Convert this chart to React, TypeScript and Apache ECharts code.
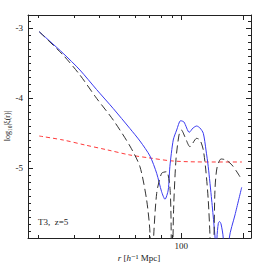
import React, { useEffect, useRef } from "react";
import * as echarts from "echarts";

// r [h^-1 Mpc] and log10|xi(r)|
const R_BLUE = [20.3, 26.55, 32.06, 38.65, 46.6, 56.2, 62.9, 70.4, 75.9, 80.2, 83.3, 86.4, 88.0, 91.4, 95.0, 99.3, 103.1, 109.4, 114.1, 118.9, 123.4, 128.1, 132.0, 135.4, 140.7, 144.4, 146.9, 147.5, 149.3, 151.6, 153.6, 156.3, 160.2, 163.4, 167.2, 171.5, 182.8, 197.1];
const V_BLUE = [-3.053, -3.361, -3.6, -3.879, -4.15, -4.436, -4.614, -4.829, -5.076, -5.339, -5.447, -5.314, -4.981, -4.6, -4.457, -4.324, -4.343, -4.49, -4.429, -4.4, -4.429, -4.504, -4.743, -4.981, -5.457, -5.814, -6.1, -7.0, -6.0, -5.79, -5.764, -5.8, -6.0, -7.0, -7.0, -6.0, -5.671, -5.276];

const R_BLACK = [20.3, 26.55, 32.06, 38.65, 46.6, 56.2, 62.9, 67.8, 70.4, 71.2, 73.0, 75.9, 80.2, 84.9, 88.0, 89.1, 90.1, 91.6, 94.2, 97.5, 100.2, 104.3, 110.3, 118.9, 123.4, 128.1, 132.0, 135.4, 138.0, 141.2, 144.4, 146.0, 149.3, 156.3, 165.3, 176.7, 186.9, 197.8];
const V_BLACK = [-3.053, -3.386, -3.671, -4.004, -4.314, -4.686, -4.981, -5.457, -5.929, -7.0, -6.1, -5.361, -5.076, -5.053, -5.267, -5.671, -7.0, -5.671, -4.886, -4.529, -4.457, -4.557, -4.696, -4.576, -4.6, -4.743, -5.057, -5.457, -5.957, -7.0, -6.0, -5.314, -5.0, -4.871, -4.886, -4.957, -5.057, -5.171];

const R_RED = [20.3, 26.55, 33.9, 43.9, 56.2, 70.4, 91.2, 133.4, 197.8];
const V_RED = [-4.543, -4.6, -4.671, -4.743, -4.814, -4.857, -4.9, -4.914, -4.914];

const X_MAJOR_TICKS = [100, 200];
const X_MINOR_TICKS = [20, 30, 40, 50, 60, 70, 80, 90];
const X_LABELS = [100];
const Y_MAJOR = [-6, -5, -4, -3];
const Y_LABELS = [-5, -4, -3];

const X_MIN_R = 17.9;
const X_MAX_R = 218.8;
const Y_MIN = -6;
const Y_MAX = -2.814;

const FONT = "'Liberation Serif', 'DejaVu Serif', serif";
const INK = "#222";

const lg = (v: number) => Math.log10(v);
const pair = (rs: number[], vs: number[]) => rs.map((r, i) => [lg(r), vs[i]]);

export default function App() {
  const ref = useRef<HTMLDivElement>(null);
  useEffect(() => {
    if (!ref.current) return;
    const chart = echarts.init(ref.current, null, { renderer: "svg" });
    const yMinor: number[] = [];
    for (let k = -59; k <= -29; k++) {
      if (k % 10 !== 0) yMinor.push(k / 10);
    }
    const xBase = {
      type: "value" as const,
      min: lg(X_MIN_R),
      max: lg(X_MAX_R),
      splitLine: { show: false },
    };
    const yBase = {
      type: "value" as const,
      min: Y_MIN,
      max: Y_MAX,
      splitLine: { show: false },
    };
    const line = { show: true, lineStyle: { color: INK, width: 1 } };
    const tick = (len: number, vals: number[]) => ({
      show: true,
      inside: true,
      length: len,
      customValues: vals,
      lineStyle: { color: INK, width: 1 },
    });
    chart.setOption({
      animation: false,
      grid: { left: 28, right: 15, top: 15, bottom: 28 },
      xAxis: [
        {
          ...xBase,
          position: "bottom",
          axisLine: line,
          axisTick: tick(5, X_MAJOR_TICKS.map(lg)),
          axisLabel: {
            show: true,
            customValues: X_LABELS.map(lg),
            formatter: (v: number) => String(Math.round(Math.pow(10, v))),
            margin: 3,
            fontSize: 9,
            fontFamily: FONT,
            color: INK,
          },
        },
        {
          ...xBase,
          position: "bottom",
          axisLine: { show: false },
          axisTick: tick(3, X_MINOR_TICKS.map(lg)),
          axisLabel: { show: false },
        },
        {
          ...xBase,
          position: "top",
          axisLine: line,
          axisTick: tick(5, X_MAJOR_TICKS.map(lg)),
          axisLabel: { show: false },
        },
        {
          ...xBase,
          position: "top",
          axisLine: { show: false },
          axisTick: tick(3, X_MINOR_TICKS.map(lg)),
          axisLabel: { show: false },
        },
      ],
      yAxis: [
        {
          ...yBase,
          position: "left",
          axisLine: line,
          axisTick: tick(5, Y_MAJOR),
          axisLabel: {
            show: true,
            customValues: Y_LABELS,
            formatter: (v: number) => String(v),
            margin: 5,
            fontSize: 9,
            fontFamily: FONT,
            color: INK,
          },
        },
        {
          ...yBase,
          position: "left",
          axisLine: { show: false },
          axisTick: tick(3, yMinor),
          axisLabel: { show: false },
        },
        {
          ...yBase,
          position: "right",
          axisLine: line,
          axisTick: tick(5, Y_MAJOR),
          axisLabel: { show: false },
        },
        {
          ...yBase,
          position: "right",
          axisLine: { show: false },
          axisTick: tick(3, yMinor),
          axisLabel: { show: false },
        },
      ],
      series: [
        {
          type: "line",
          data: pair(R_RED, V_RED),
          symbol: "none",
          smooth: 0.3,
          lineStyle: { color: "#ff3a3a", width: 1, type: [4, 3] },
          z: 2,
        },
        {
          type: "line",
          data: pair(R_BLUE, V_BLUE),
          symbol: "none",
          smooth: 0.25,
          lineStyle: { color: "#3a3af0", width: 1 },
          z: 3,
        },
        {
          type: "line",
          data: pair(R_BLACK, V_BLACK),
          symbol: "none",
          smooth: 0.25,
          lineStyle: { color: "#333", width: 1, type: [8, 4] },
          z: 4,
        },
      ],
      graphic: [
        {
          type: "text",
          x: 7,
          y: 126,
          rotation: Math.PI / 2,
          style: {
            text: "log₁₀|ξ(r)|",
            fontSize: 8,
            fontFamily: FONT,
            fill: INK,
            align: "center",
            verticalAlign: "middle",
          },
        },
        {
          type: "text",
          x: 139,
          y: 258,
          style: {
            text: "{i|r} [{i|h}{n|⁻¹ Mpc]}",
            fontSize: 9,
            fontFamily: FONT,
            fill: INK,
            align: "center",
            verticalAlign: "middle",
            rich: {
              i: { fontStyle: "italic", fontSize: 9, fontFamily: FONT, fill: INK },
              n: { fontSize: 9, fontFamily: FONT, fill: INK },
            },
          },
        },
        {
          type: "text",
          x: 38,
          y: 222,
          style: {
            text: "T3,  z=5",
            fontSize: 9,
            fontFamily: FONT,
            fill: INK,
            align: "left",
            verticalAlign: "middle",
          },
        },
      ],
    });
    return () => chart.dispose();
  }, []);
  return (
    <div
      ref={ref}
      style={{ position: "fixed", left: 0, top: 0, width: 266, height: 266, background: "#fff" }}
    />
  );
}
